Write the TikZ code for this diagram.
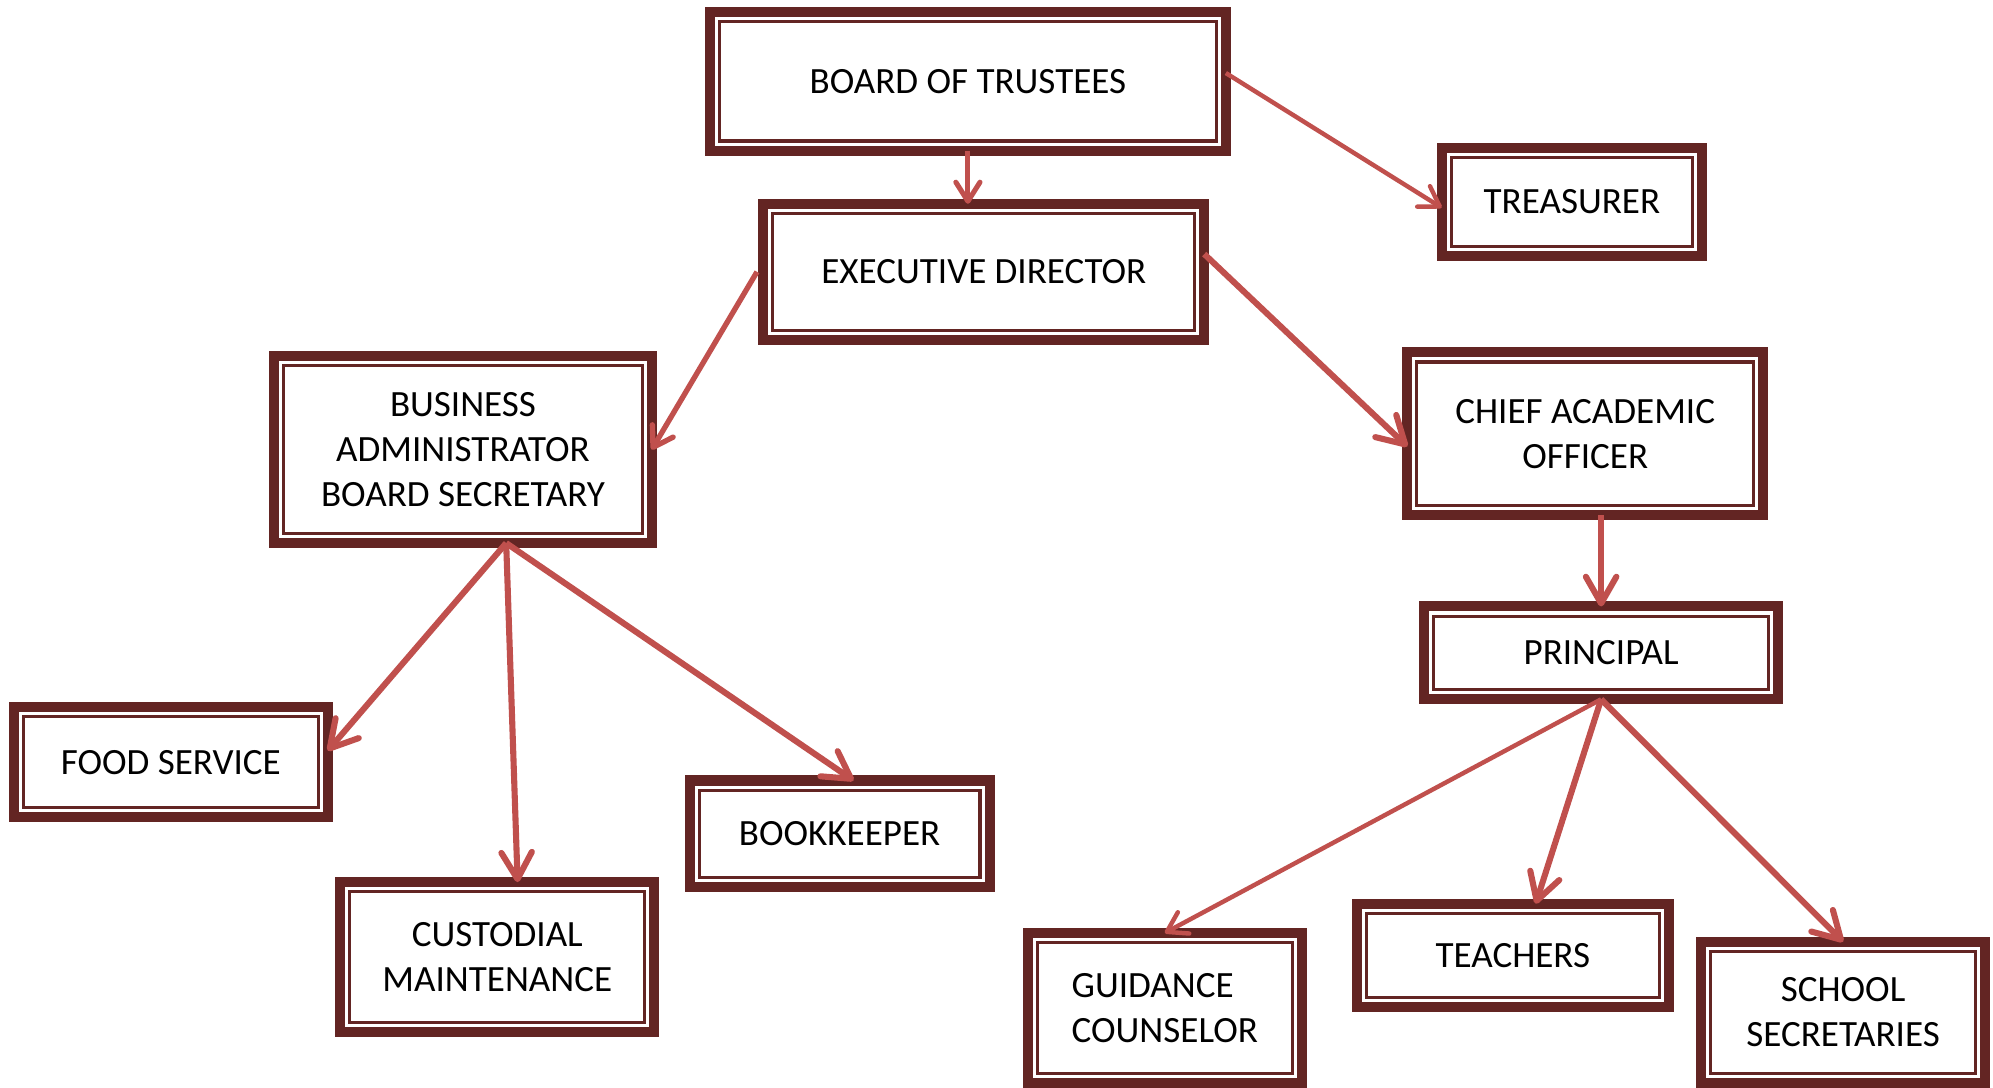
\documentclass[tikz,border=0pt]{standalone}
\usepackage{fontspec}
\setmainfont{Carlito}
\usetikzlibrary{arrows.meta, positioning}
\definecolor{boxmaroon}{RGB}{99,37,35}
\definecolor{linkred}{RGB}{192,80,77}

\tikzset{
  post/.style={draw=boxmaroon, line width=0.079cm, fill=white, inner sep=0pt, outer sep=0pt,
    align=center, font=\fontsize{8.3}{10}\selectfont},
  outer size/.style 2 args={minimum width=#1cm-0.079cm, minimum height=#2cm-0.079cm},
  inner frame/.style={draw=boxmaroon, line width=0.024cm},
  link/.style={draw=linkred, line width=0.035cm, -{Straight Barb[length=0.15cm, width=0.19cm, round]}},
  heavy link/.style={draw=linkred, line width=0.048cm, -{Straight Barb[length=0.21cm, width=0.24cm, round]}},
}

\begin{document}
\begin{tikzpicture}
  \useasboundingbox (0,0) rectangle (15.69,8.565);

  % Top of the chart
  \node[post, outer size={4.14}{1.17}] (bot) at (7.62,7.925) {BOARD OF TRUSTEES};
  \node[post, outer size={2.13}{0.93}] (tre) at (12.375,6.975) {TREASURER};
  \node[post, outer size={3.55}{1.15}] (exe) at (7.745,6.425) {EXECUTIVE DIRECTOR};

  % Business side
  \node[post, outer size={3.05}{1.55}] (bus) at (3.645,5.025) {BUSINESS\\ADMINISTRATOR\\BOARD SECRETARY};
  \node[post, outer size={2.55}{0.95}] (foo) at (1.345,2.565) {FOOD SERVICE};
  \node[post, outer size={2.44}{0.92}] (boo) at (6.61,2.0) {BOOKKEEPER};
  \node[post, outer size={2.55}{1.26}] (cus) at (3.915,1.03) {CUSTODIAL\\MAINTENANCE};

  % Academic side
  \node[post, outer size={2.88}{1.36}] (cao) at (12.48,5.15) {CHIEF ACADEMIC\\OFFICER};
  \node[post, outer size={2.87}{0.81}] (pri) at (12.605,3.425) {PRINCIPAL};
  \node[post, outer size={2.24}{1.26}, align=left] (gui) at (9.17,0.63) {GUIDANCE\\COUNSELOR};
  \node[post, outer size={2.54}{0.89}] (tea) at (11.91,1.045) {TEACHERS};
  \node[post, outer size={2.32}{1.19}] (sec) at (14.51,0.595) {SCHOOL\\SECRETARIES};

  % Thin inner line of each box
  \foreach \n in {bot,tre,exe,bus,foo,boo,cus,cao,pri,gui,tea,sec}
    \draw[inner frame] ([shift={(0.0755,0.0755)}]\n.south west) rectangle ([shift={(-0.0755,-0.0755)}]\n.north east);

  % Links
  \draw[link, line width=0.04cm] (bot.south) -- (bot.south |- exe.north);
  \draw[link] ([yshift=0.065cm]bot.east) -- ([yshift=-0.045cm]tre.west);
  \draw[link, line width=0.042cm] ([xshift=-0.05cm]exe.west) -- (bus.east);
  \draw[heavy link] ([yshift=0.14cm]exe.east) -- ([yshift=-0.1cm]cao.west);
  \draw[heavy link] (pri.north |- cao.south) -- (pri.north);

  \coordinate (busfoot) at ([xshift=0.34cm]bus.south);
  \draw[heavy link] (busfoot) -- ([yshift=0.09cm]foo.east);
  \draw[heavy link] (busfoot) -- ([xshift=0.16cm]cus.north);
  \draw[heavy link] (busfoot) -- ([xshift=0.11cm]boo.north);

  \draw[link] (pri.south) -- (gui.north);
  \draw[heavy link] (pri.south) -- ([xshift=0.18cm]tea.north);
  \draw[heavy link] (pri.south) -- (sec.north);
\end{tikzpicture}
\end{document}
